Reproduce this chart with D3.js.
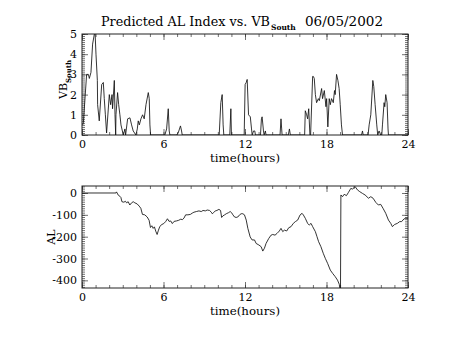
<!DOCTYPE html>
<html><head><meta charset="utf-8">
<script src="https://cdn.jsdelivr.net/npm/d3@7"></script>
<style>body{margin:0;background:#fff}svg{display:block}text{font-family:"DejaVu Serif",serif;fill:#000}</style>
</head><body><svg width="453" height="340"></svg>
<script>
// ---- data ----
const vbTime=[0.05,0.10,0.34,0.47,0.54,0.66,0.78,0.91,0.96,1.03,1.13,1.15,1.27,1.45,1.57,1.64,1.72,1.81,2.01,2.11,2.21,2.25,2.38,2.43,2.48,2.50,2.62,2.70,2.79,2.87,3.04,3.16,3.21,3.36,3.53,3.65,3.77,3.97,4.07,4.14,4.22,4.34,4.46,4.58,4.71,4.88,4.95,5.00,5.05,6.10,6.23,6.35,6.42,6.47,6.96,7.08,7.25,7.33,7.38,10.10,10.22,10.32,10.39,10.44,10.88,10.96,11.00,11.94,12.01,12.09,12.16,12.26,12.39,12.48,12.53,12.63,12.72,12.77,13.14,13.21,13.26,13.36,13.41,13.50,13.55,14.58,14.65,14.70,14.73,15.19,15.27,15.34,16.39,16.44,16.54,16.61,16.69,16.78,16.83,16.98,17.03,17.10,17.18,17.27,17.40,17.47,17.64,17.71,17.84,17.96,18.01,18.10,18.20,18.28,18.37,18.50,18.59,18.64,18.74,18.84,18.93,19.01,19.10,19.18,20.58,20.65,20.70,21.06,21.14,21.26,21.41,21.48,21.58,21.70,21.77,21.87,21.99,22.07,22.12,22.24,22.29,22.36,22.46,22.53,22.56,24.0];
const vbValue=[0.5,0.6,3.0,3.0,2.8,3.1,4.5,5.0,5.1,4.0,2.7,1.5,0.7,2.5,2.6,1.8,1.0,0.1,2.0,1.5,2.0,1.3,2.7,1.0,0,1.0,2.1,1.5,1.0,0.5,0,0.3,0,0.8,0.85,0.5,0.2,0,0.3,0.7,0.5,0.8,1.0,0.8,1.5,2.1,1.8,0.5,0,0,0.3,1.3,0.2,0,0,0.1,0.45,0.2,0,0,1.6,2.0,0.5,0,0,1.3,0,0,2.5,2.6,2.75,1.0,0.9,0.3,0,0.2,0.2,0,0,0.8,0.9,0.2,0,0.2,0,0,0.8,0.3,0,0,0.3,0,0,1.2,1.0,0.8,1.3,0,0,2.9,2.9,2.8,2.0,1.6,1.8,1.7,2.3,1.8,2.2,1.4,1.8,0.4,1.8,1.5,1.8,1.6,2.2,2.0,3.0,2.7,2.3,1.5,0.5,0,0,0.2,0,0,0.5,1.0,2.7,2.4,1.5,0.5,0,0.2,0,0,0.5,1.6,1.4,2.0,1.6,0.3,0,0];
const alTime=[0,2.50,2.54,2.67,2.79,2.86,2.94,3.08,3.20,3.28,3.40,3.52,3.65,3.77,3.89,4.06,4.21,4.33,4.45,4.62,4.80,4.94,5.04,5.14,5.24,5.33,5.43,5.53,5.63,5.72,5.85,6.02,6.17,6.29,6.41,6.53,6.65,6.78,6.95,7.12,7.27,7.39,7.51,7.63,7.80,7.98,8.12,8.24,8.42,8.61,8.78,8.91,9.08,9.22,9.39,9.52,9.59,9.69,9.81,9.93,10.08,10.20,10.28,10.37,10.50,10.62,10.79,10.91,11.01,11.11,11.23,11.35,11.47,11.60,11.72,11.84,11.96,12.09,12.21,12.38,12.52,12.70,12.82,13.02,13.19,13.31,13.43,13.55,13.75,13.92,14.04,14.21,14.36,14.53,14.65,14.78,14.90,15.07,15.22,15.39,15.56,15.71,15.88,16.05,16.20,16.30,16.44,16.61,16.73,16.86,16.98,17.18,17.30,17.42,17.59,17.76,17.91,18.08,18.28,18.45,18.64,18.81,18.94,18.99,19.03,19.06,19.18,19.30,19.47,19.62,19.79,19.91,20.11,20.28,20.45,20.65,20.84,21.09,21.26,21.43,21.63,21.82,21.99,22.16,22.36,22.56,22.73,22.85,23.02,23.22,23.39,23.53,23.70,23.83,24.0];
const alValue=[0,0,5,-10,-15,-20,-40,-42,-38,-45,-40,-55,-45,-40,-45,-50,-60,-70,-98,-100,-110,-125,-158,-150,-162,-155,-175,-190,-170,-155,-145,-140,-130,-118,-130,-128,-140,-130,-128,-125,-120,-122,-115,-100,-100,-98,-92,-88,-85,-82,-85,-80,-82,-78,-80,-88,-95,-90,-82,-80,-75,-80,-112,-105,-100,-95,-90,-85,-90,-100,-110,-112,-110,-100,-95,-95,-100,-124,-162,-201,-215,-215,-231,-238,-246,-266,-253,-231,-208,-193,-190,-193,-185,-174,-162,-177,-170,-174,-159,-154,-139,-131,-124,-101,-93,-101,-116,-139,-147,-139,-154,-177,-200,-223,-246,-276,-299,-322,-353,-368,-383,-399,-418,-440,-440,-9,-17,-6,-12,3,21,18,29,14,6,-2,-9,-24,-17,-24,-43,-55,-52,-70,-93,-124,-139,-154,-144,-139,-131,-131,-119,-116,-116];
const xTicks=[0,6,12,18,24];
const xMinor=d3.range(0,25,1);
const vbTicks=[0,1,2,3,4,5];
const vbMinor=d3.range(0,5.01,0.1);
const alTicks=[0,-100,-200,-300,-400];
const alMinor=d3.range(-430,31,10);
const titleMain="Predicted AL Index vs. VB", titleSub="South", titleDate="06/05/2002";
const xLabel="time(hours)";

// ---- drawing ----
const svg=d3.select("svg");
const x=d3.scaleLinear([0,24],[82,408]);
const panels=[
 {y:d3.scaleLinear([0,5],[135,34]),t:vbTime,v:vbValue,ticks:vbTicks,minor:vbMinor,top:34,bot:135,id:"c1"},
 {y:d3.scaleLinear([-435,32],[288,186]),t:alTime,v:alValue,ticks:alTicks,minor:alMinor,top:186,bot:288,id:"c2"}
];
panels.forEach(p=>{
  const g=svg.append("g");
  g.append("clipPath").attr("id",p.id).append("rect").attr("x",82).attr("y",p.top).attr("width",326).attr("height",p.bot-p.top);
  const fmt=d=>d<0?"-"+(-d):String(d);
  const ab=g.append("g").attr("transform",`translate(0,${p.bot})`)
    .call(d3.axisBottom(x).tickValues(xTicks).tickSizeInner(-6).tickSizeOuter(0).tickPadding(5).tickFormat(d=>d));
  const abm=g.append("g").attr("transform",`translate(0,${p.bot})`)
    .call(d3.axisBottom(x).tickValues(xMinor).tickSizeInner(-3).tickSizeOuter(0).tickFormat(""));
  const at=g.append("g").attr("transform",`translate(0,${p.top})`)
    .call(d3.axisTop(x).tickValues(xTicks).tickSizeInner(-6).tickSizeOuter(0).tickFormat(""));
  const atm=g.append("g").attr("transform",`translate(0,${p.top})`)
    .call(d3.axisTop(x).tickValues(xMinor).tickSizeInner(-3).tickSizeOuter(0).tickFormat(""));
  const al=g.append("g").attr("transform","translate(82,0)")
    .call(d3.axisLeft(p.y).tickValues(p.ticks).tickSizeInner(-6).tickSizeOuter(0).tickPadding(5).tickFormat(fmt));
  const alm=g.append("g").attr("transform","translate(82,0)")
    .call(d3.axisLeft(p.y).tickValues(p.minor).tickSizeInner(-3).tickSizeOuter(0).tickFormat(""));
  const ar=g.append("g").attr("transform","translate(408,0)")
    .call(d3.axisRight(p.y).tickValues(p.ticks).tickSizeInner(-6).tickSizeOuter(0).tickFormat(""));
  const arm=g.append("g").attr("transform","translate(408,0)")
    .call(d3.axisRight(p.y).tickValues(p.minor).tickSizeInner(-3).tickSizeOuter(0).tickFormat(""));
  [ab,abm,at,atm,al,alm,ar,arm].forEach(a=>{
    a.select(".domain").remove();
    a.selectAll("line").attr("stroke","#333").attr("stroke-width",0.7);
    a.selectAll("text").attr("font-family","Liberation Serif").attr("font-size",11).attr("fill","#000");
  });
  g.append("rect").attr("x",82).attr("y",p.top).attr("width",326).attr("height",p.bot-p.top)
    .attr("fill","none").attr("stroke","#222").attr("stroke-width",1);
  const line=d3.line().x((d,i)=>x(p.t[i])).y(d=>p.y(d));
  g.append("path").attr("d",line(p.v)).attr("clip-path",`url(#${p.id})`)
    .attr("fill","none").attr("stroke","#111").attr("stroke-width",0.85);
  g.append("text").attr("x",245).attr("y",p.bot+27).attr("text-anchor","middle")
    .attr("font-size",10.5).attr("textLength",70).attr("lengthAdjust","spacingAndGlyphs").text(xLabel);
});
// title
const tt=svg.append("text").attr("y",26).attr("font-size",12);
tt.append("tspan").attr("x",101).attr("textLength",169).attr("lengthAdjust","spacingAndGlyphs").text(titleMain);
tt.append("tspan").attr("x",271).attr("dy",4).attr("font-size",7.5).attr("font-weight","bold").text(titleSub);
tt.append("tspan").attr("x",305).attr("dy",-4).attr("textLength",78).attr("lengthAdjust","spacingAndGlyphs").text(titleDate);
// y labels
const yl=svg.append("text").attr("transform","translate(67,99) rotate(-90)").attr("font-size",11);
yl.append("tspan").text("VB");
yl.append("tspan").attr("dy",3.5).attr("font-size",7).attr("font-weight","bold").text("South");
svg.append("text").attr("transform","translate(55,237) rotate(-90)").attr("text-anchor","middle").attr("font-size",11).text("AL");
</script></body></html>
